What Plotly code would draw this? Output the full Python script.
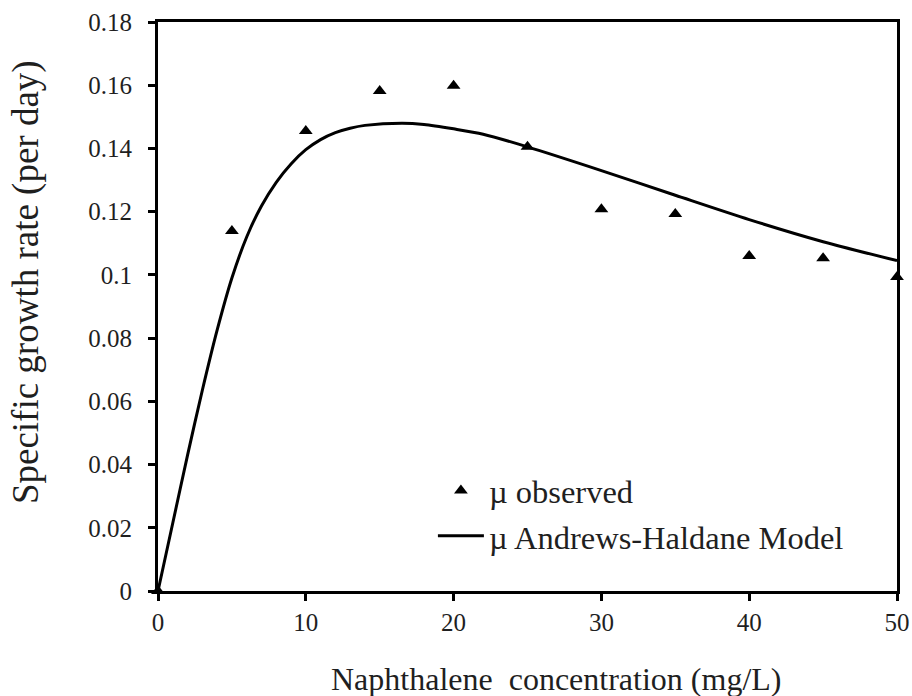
import plotly.graph_objects as go

# Observed data
obs_x = [0, 5, 10, 15, 20, 25, 30, 35, 40, 45, 50]
obs_y = [0, 0.1139, 0.1455, 0.1582, 0.1598, 0.1405, 0.1208, 0.1193, 0.1060, 0.1053, 0.0993]

# Andrews-Haldane model curve
model_x = [0, 1, 2, 3, 4, 5, 6, 7, 8, 9, 10, 11, 12, 13, 14, 16.5, 18, 20, 22, 25, 30, 35, 40, 45, 50]
model_y = [0, 0.0215, 0.043, 0.0635, 0.0825, 0.0990, 0.1120, 0.1218, 0.1293, 0.1351, 0.1396,
           0.1428, 0.1450, 0.1464, 0.1473, 0.1480, 0.1476, 0.1462, 0.1445, 0.1405, 0.1330,
           0.1252, 0.1175, 0.1105, 0.1045]

x_ticks = [0, 10, 20, 30, 40, 50]
y_ticks = [0, 0.02, 0.04, 0.06, 0.08, 0.1, 0.12, 0.14, 0.16, 0.18]
y_tick_text = ["0", "0.02", "0.04", "0.06", "0.08", "0.1", "0.12", "0.14", "0.16", "0.18"]

x_title = "Naphthalene\u00a0 concentration (mg/L)"
y_title = "Specific growth rate (per day)"

FONT = "Liberation Serif"
TXT = "#1f1f1f"

fig = go.Figure()
fig.add_trace(go.Scatter(
    x=obs_x, y=obs_y, mode="markers", name="\u00b5 observed",
    marker=dict(symbol="triangle-up", size=12, color="black"),
    cliponaxis=False, legendgroup="a",
))
fig.add_trace(go.Scatter(
    x=model_x, y=model_y, mode="lines", name="\u00b5 Andrews-Haldane Model",
    line=dict(color="black", width=3, shape="spline", smoothing=0.8),
    legendgroup="b",
))

fig.update_layout(
    width=912, height=696,
    margin=dict(l=158, r=15, t=22, b=105),
    paper_bgcolor="white", plot_bgcolor="white",
    font=dict(family=FONT, size=25, color=TXT),
    showlegend=True,
    legend=dict(
        x=0.372, y=0.225, xanchor="left", yanchor="top",
        bgcolor="rgba(0,0,0,0)", font=dict(family=FONT, size=32.5, color=TXT),
        traceorder="grouped", tracegroupgap=0, itemwidth=46,
    ),
    xaxis=dict(
        range=[0, 50], tickvals=x_ticks, ticks="outside", ticklen=7, tickwidth=2.5,
        tickcolor="black", showline=True, linecolor="black", linewidth=3, mirror=True,
        showgrid=False, zeroline=False, automargin=False, ticklabelstandoff=0,
        tickfont=dict(family=FONT, size=25, color=TXT),
    ),
    yaxis=dict(
        range=[0, 0.18], tickvals=y_ticks, ticktext=y_tick_text, ticks="outside", ticklen=7,
        tickwidth=2.5, tickcolor="black", showline=True, linecolor="black", linewidth=3,
        mirror=True, showgrid=False, zeroline=False, automargin=False, ticklabelstandoff=11,
        tickfont=dict(family=FONT, size=25, color=TXT),
    ),
    annotations=[
        dict(text=x_title, xref="paper", yref="paper", x=0.5386, y=-0.1547,
             xanchor="center", yanchor="middle", showarrow=False,
             font=dict(family=FONT, size=32, color=TXT)),
        dict(text=y_title, xref="paper", yref="paper", x=-0.1785, y=0.543,
             xanchor="center", yanchor="middle", showarrow=False, textangle=-90,
             font=dict(family=FONT, size=37, color=TXT)),
    ],
)

fig.write_html("out.html")
